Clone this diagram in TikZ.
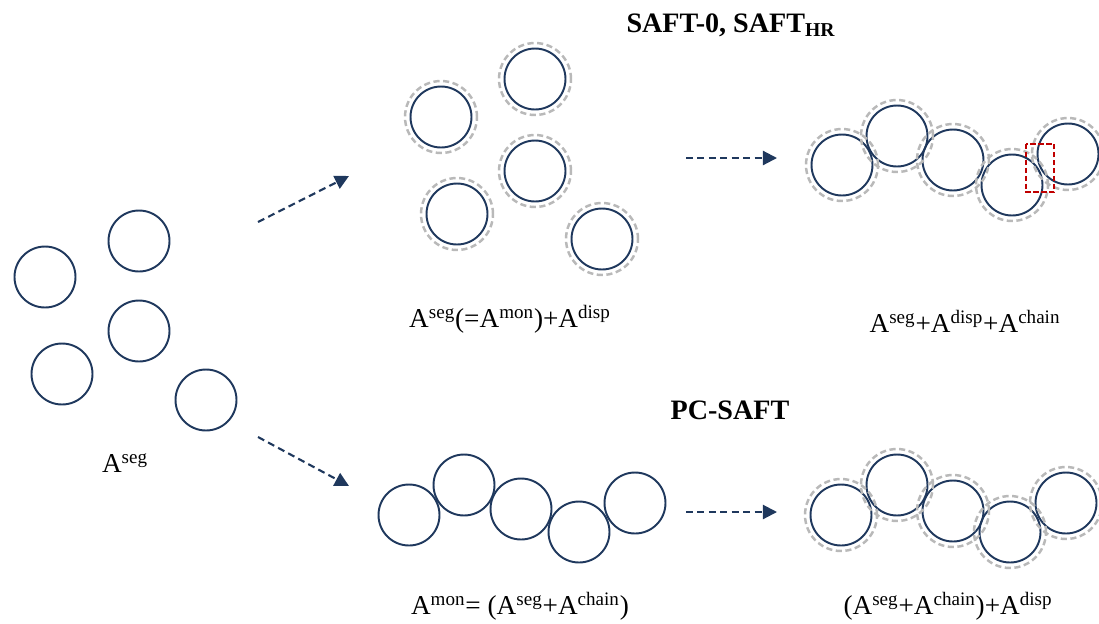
\documentclass[tikz,border=0pt]{standalone}
\usepackage{fontspec}
\setmainfont{Liberation Serif}
\usepackage{xcolor}
\usepackage{tikz}
\usetikzlibrary{arrows.meta}
\definecolor{navy}{RGB}{31,56,93}
\definecolor{shellgray}{RGB}{185,185,185}
\definecolor{boxred}{RGB}{192,0,0}

\begin{document}
\begin{tikzpicture}[x=0.02cm,y=-0.02cm]
		\useasboundingbox (0,0) rectangle (1099,623);
		\tikzstyle{seg}=[draw=navy,line width=1.1pt,circle,inner sep=0pt,minimum size=1.22cm]
		\tikzstyle{shell}=[draw=shellgray,line width=1.4pt,dash pattern=on 3.5pt off 2pt]
		\tikzstyle{lbl}=[inner sep=0pt,font=\fontsize{15.5}{18}\selectfont]
		\tikzstyle{ttl}=[inner sep=0pt,font=\fontsize{16}{19}\selectfont\bfseries]
		\tikzstyle{flow}=[navy,line width=1.2pt,dash pattern=on 4pt off 2.5pt,-{Triangle[length=8pt,width=8pt]}]
		% free segments
		\node[seg] (l1) at (45,277) {};
		\node[seg] (l2) at (139,241) {};
		\node[seg] (l3) at (139,331) {};
		\node[seg] (l4) at (62,374) {};
		\node[seg] (l5) at (206,400) {};
		\node[lbl] (tl) at (125,463) {A\textsuperscript{seg}};
		% SAFT-0 monomers
		\node[seg] (m1) at (441,117) {};
		\node[seg] (m2) at (535,79) {};
		\node[seg] (m3) at (535,171) {};
		\node[seg] (m4) at (457,214) {};
		\node[seg] (m5) at (602,239) {};
		\foreach \n in {m1,m2,m3,m4,m5}
			\draw[shell] (\n.center) circle[radius=0.72cm];
		\node[lbl] (tm) at (510,319) {A\textsuperscript{seg}(=A\textsuperscript{mon})+A\textsuperscript{disp}};
		% SAFT-0 chain
		\node[seg] (c1) at (842,165) {};
		\node[seg] (c2) at (897,136) {};
		\node[seg] (c3) at (953,160) {};
		\node[seg] (c4) at (1012,185) {};
		\node[seg] (c5) at (1068,154) {};
		\foreach \n in {c1,c2,c3,c4,c5}
			\draw[shell] (\n.center) circle[radius=0.72cm];
		\draw[boxred,line width=1.4pt,dash pattern=on 3pt off 1.5pt] (1026,144) rectangle (1054,192);
		\node[lbl] (tc) at (965,321) {A\textsuperscript{seg}+A\textsuperscript{disp}+A\textsuperscript{chain}};
		% PC-SAFT chain
		\node[seg] (p1) at (409,515) {};
		\node[seg] (p2) at (464,485) {};
		\node[seg] (p3) at (521,509) {};
		\node[seg] (p4) at (579,532) {};
		\node[seg] (p5) at (635,503) {};
		\node[lbl] (tp) at (520,606) {A\textsuperscript{mon}= (A\textsuperscript{seg}+A\textsuperscript{chain})};
		% PC-SAFT chain + dispersion
		\node[seg] (q1) at (841,515) {};
		\node[seg] (q2) at (897,485) {};
		\node[seg] (q3) at (953,511) {};
		\node[seg] (q4) at (1010,532) {};
		\node[seg] (q5) at (1066,503) {};
		\foreach \n in {q1,q2,q3,q4,q5}
			\draw[shell] (\n.center) circle[radius=0.72cm];
		\node[lbl] (tq) at (948,606) {(A\textsuperscript{seg}+A\textsuperscript{chain})+A\textsuperscript{disp}};
		% titles
		\node[ttl] (h1) at (731,25) {SAFT-0, SAFT\textsubscript{HR}};
		\node[ttl] (h2) at (730,410) {PC-SAFT};
		% arrows
		\coordinate (a1) at (258,222);
		\coordinate (b1) at (349,176);
		\coordinate (a2) at (258,437);
		\coordinate (b2) at (349,486);
		\coordinate (a3) at (686,158);
		\coordinate (b3) at (777,158);
		\coordinate (a4) at (686,512);
		\coordinate (b4) at (777,512);
		\draw[flow] (a1) -- (b1);
		\draw[flow] (a2) -- (b2);
		\draw[flow] (a3) -- (b3);
		\draw[flow] (a4) -- (b4);
\end{tikzpicture}
\end{document}
